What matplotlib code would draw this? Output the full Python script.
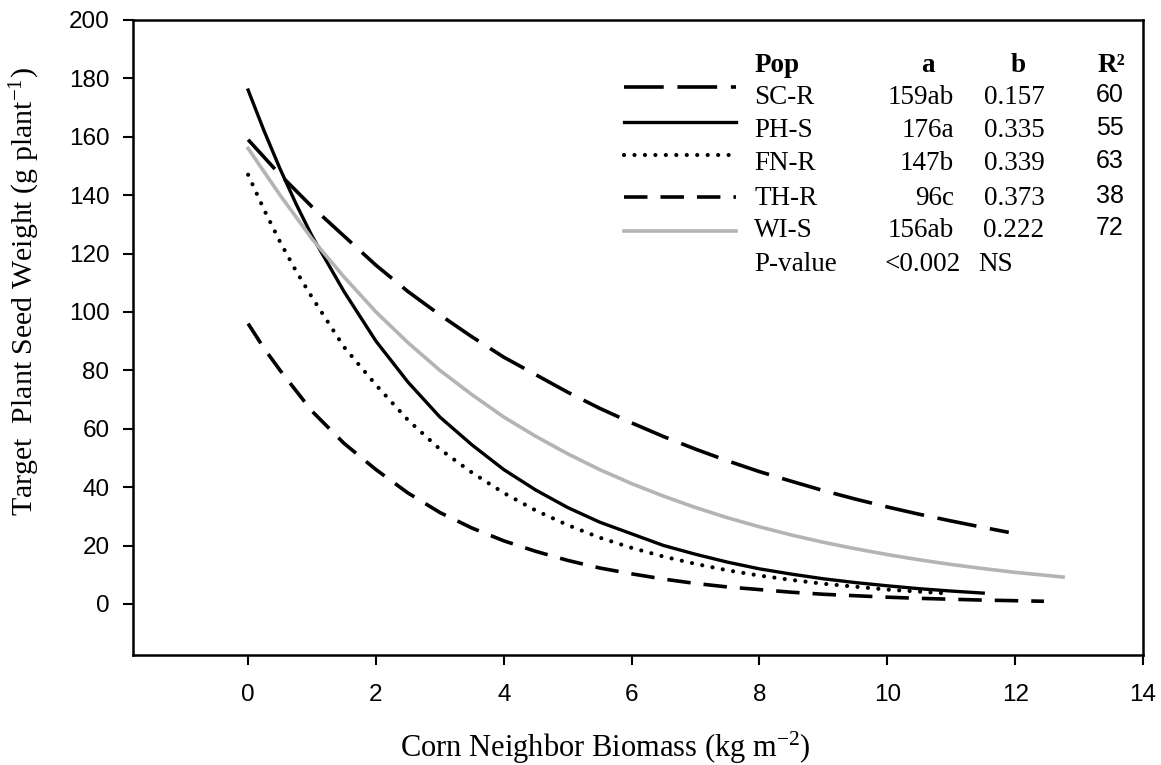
import matplotlib
matplotlib.use("Agg")
import matplotlib.pyplot as plt

plt.rcParams["mathtext.fontset"] = "custom"
plt.rcParams["mathtext.rm"] = "Liberation Serif"
plt.rcParams["mathtext.it"] = "Liberation Serif:italic"
plt.rcParams["mathtext.bf"] = "Liberation Serif:bold"

# ---- data ----
pops = ["SC-R", "PH-S", "FN-R", "TH-R", "WI-S"]
a_labels = ["159ab", "176a", "147b", "96c", "156ab"]
b_labels = ["0.157", "0.335", "0.339", "0.373", "0.222"]
r2_labels = ["60", "55", "63", "38", "72"]
pval_a = "<0.002"
pval_b = "NS"

scr_x = [0, 0.5, 1, 1.5, 2, 2.5, 3, 3.5, 4, 4.5, 5, 5.5, 6, 6.5, 7, 7.5, 8, 8.5, 9, 9.5, 10, 10.5, 11, 11.5, 11.9]
scr_y = [159, 147, 136, 126, 116, 107, 99, 91.5, 84.5, 78.5, 72.5, 67, 62, 57.3, 53, 49, 45.3, 42, 38.8, 35.9, 33.2, 30.7, 28.4, 26.2, 24.5]

phs_x = [0, 0.25, 0.5, 0.75, 1, 1.5, 2, 2.5, 3, 3.5, 4, 4.5, 5, 5.5, 6, 6.5, 7, 7.5, 8, 8.5, 9, 9.5, 10, 10.5, 11, 11.5]
phs_y = [176, 162, 149, 137, 126, 107, 90, 76, 64, 54.5, 46, 39, 33, 28, 24, 20, 17, 14.3, 12, 10.2, 8.6, 7.3, 6.2, 5.2, 4.4, 3.7]

fnr_x = [0, 0.25, 0.5, 0.75, 1, 1.5, 2, 2.5, 3, 3.5, 4, 4.5, 5, 5.5, 6, 6.5, 7, 7.5, 8, 8.5, 9, 9.5, 10, 10.5, 11]
fnr_y = [147, 135, 124, 114, 105, 88, 75, 63, 53, 45, 38, 32, 27, 22.7, 19.2, 16.2, 13.7, 11.5, 9.7, 8.2, 6.9, 5.9, 4.9, 4.2, 3.5]

thr_x = [0, 0.25, 0.5, 0.75, 1, 1.5, 2, 2.5, 3, 3.5, 4, 4.5, 5, 5.5, 6, 6.5, 7, 7.5, 8, 8.5, 9, 9.5, 10, 10.5, 11, 11.5, 12, 12.45]
thr_y = [96, 87.5, 80, 73, 66, 55, 46, 38, 31.3, 26, 21.6, 18, 14.9, 12.3, 10.3, 8.5, 7.0, 5.8, 4.9, 4.0, 3.3, 2.8, 2.3, 1.9, 1.6, 1.3, 1.1, 0.9]

wis_x = [0, 0.5, 1, 1.5, 2, 2.5, 3, 3.5, 4, 4.5, 5, 5.5, 6, 6.5, 7, 7.5, 8, 8.5, 9, 9.5, 10, 10.5, 11, 11.5, 12, 12.75]
wis_y = [156, 140, 125, 112, 100, 89.5, 80, 71.7, 64, 57.4, 51.4, 46, 41.2, 36.9, 33, 29.5, 26.4, 23.6, 21.1, 18.9, 16.9, 15.1, 13.5, 12.1, 10.8, 9.2]

x_ticks = [0, 2, 4, 6, 8, 10, 12, 14]
y_ticks = [0, 20, 40, 60, 80, 100, 120, 140, 160, 180, 200]

series = [
    (scr_x, scr_y, dict(color="black", lw=2.6, dashes=(11, 3.8))),
    (phs_x, phs_y, dict(color="black", lw=2.4, linestyle="-")),
    (fnr_x, fnr_y, dict(color="black", lw=3.0, dashes=(0.01, 2.5), dash_capstyle="round")),
    (thr_x, thr_y, dict(color="black", lw=2.6, dashes=(6.5, 3.6))),
    (wis_x, wis_y, dict(color="#b4b4b4", lw=2.6, linestyle="-")),
]

fig = plt.figure(figsize=(11.61, 7.65), dpi=100)
ax = fig.add_axes([0.1146, 0.1438, 0.8699, 0.8301])

for xs, ys, st in series:
    ax.plot(xs, ys, **st)

ax.set_xlim(-1.8, 14)
ax.set_ylim(-17.5, 200)
ax.set_xticks(x_ticks)
ax.set_yticks(y_ticks)
for sp in ax.spines.values():
    sp.set_linewidth(1.8)
ax.tick_params(axis="both", direction="out", length=7, width=1.5, labelsize=17.5)
ax.tick_params(axis="y", pad=10)
ax.tick_params(axis="x", pad=14)
for lab in ax.get_xticklabels() + ax.get_yticklabels():
    lab.set_family("Liberation Sans")

ax.set_xlabel("Corn Neighbor Biomass (kg m$^{-2}$)", family="Liberation Serif",
              fontsize=22)
ax.xaxis.set_label_coords(0.468, -0.118)
ax.set_ylabel("Target  Plant Seed Weight (g plant$^{-1}$)", family="Liberation Serif",
              fontsize=21.5)
ax.yaxis.set_label_coords(-0.090, 0.572)

# ---- table-like legend ----
tf = dict(family="Liberation Serif", fontsize=19.5, transform=ax.transData, va="center")
hy = 184.5
ax.text(7.92, hy, "Pop", fontweight="bold", ha="left", **tf)
ax.text(10.63, hy, "a", fontweight="bold", ha="center", **tf)
ax.text(12.04, hy, "b", fontweight="bold", ha="center", **tf)
ax.text(13.72, hy, "R²", fontweight="bold", ha="right", **tf)

text_y = [173.5, 162.2, 150.9, 139.0, 128.0, 116.3]
line_y = [177.1, 165.1, 153.8, 139.4, 127.7]
for i, (xs, ys, st) in enumerate(series):
    ax.plot([5.88, 7.63], [line_y[i], line_y[i]], **st)
    ax.text(7.92, text_y[i], pops[i], ha="left", **tf)
    ax.text(11.04, text_y[i], a_labels[i], ha="right", **tf)
    ax.text(12.46, text_y[i], b_labels[i], ha="right", **tf)
    ax.text(13.70, text_y[i] + 0.8, r2_labels[i], ha="right", family="Liberation Sans",
            fontsize=18, transform=ax.transData, va="center")
ax.text(7.92, text_y[5], "P-value", ha="left", **tf)
ax.text(11.15, text_y[5], pval_a, ha="right", **tf)
ax.text(11.43, text_y[5], pval_b, ha="left", **tf)

fig.savefig("out.png", dpi=100)
